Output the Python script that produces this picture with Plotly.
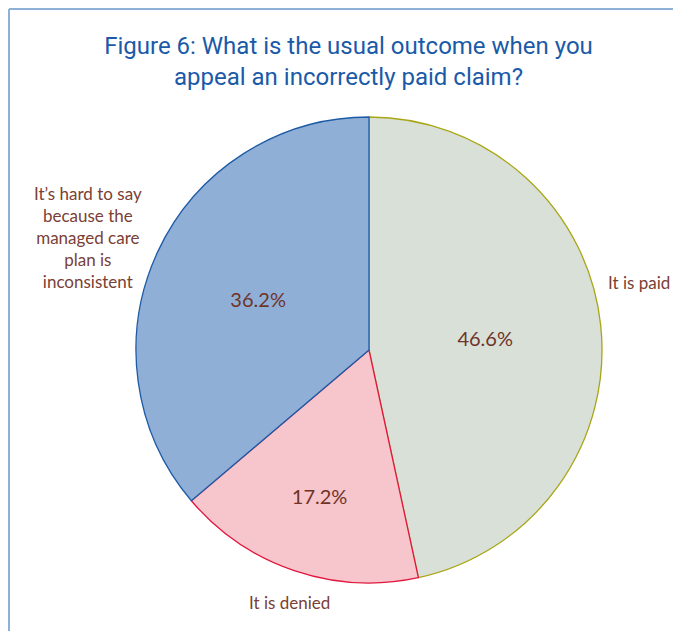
import plotly.graph_objects as go

labels = ["It is paid", "It is denied", "It's hard to say because the managed care plan is inconsistent"]
values = [46.6, 17.2, 36.2]
fill_colors = ["#d9e0d8", "#f7c5cc", "#90afd6"]
line_colors = ["#a8a614", "#e0163e", "#1d5ba6"]

# page body has an 8px margin, so the figure is a little smaller than the window
W, H = 673, 623
text_color = "#6f3328"

fig = go.Figure(
    go.Pie(
        labels=labels,
        values=values,
        sort=False,
        direction="clockwise",
        rotation=0,
        marker=dict(colors=fill_colors, line=dict(color=line_colors, width=1.3)),
        texttemplate="%{value:.1f}%",
        textposition="inside",
        insidetextorientation="horizontal",
        textfont=dict(family="Lato", size=20, color=text_color),
        domain=dict(x=[128 / W, 594 / W], y=[1 - 575 / H, 1 - 109 / H]),
        showlegend=False,
        hoverinfo="label+percent",
    )
)

# outside category labels
label_font = dict(family="Lato", size=17, color="#7a4035")
fig.add_annotation(x=631 / W, y=1 - 275 / H, text="It is paid", xanchor="center",
                   showarrow=False, font=label_font, xref="paper", yref="paper")
fig.add_annotation(x=281 / W, y=1 - 607 / H, text="It is denied", xanchor="center",
                   showarrow=False, font=label_font, xref="paper", yref="paper")
fig.add_annotation(x=80 / W, y=1 - 230 / H, xanchor="center",
                   text="It’s hard to say<br>because the<br>managed care<br>plan is<br>inconsistent",
                   showarrow=False, font=label_font, xref="paper", yref="paper",
                   align="center")

# frame lines (left and top)
fig.add_shape(type="line", x0=1 / W, x1=1 / W, y0=0, y1=1 - 1 / H,
              xref="paper", yref="paper", line=dict(color="#8fb0d6", width=2))
fig.add_shape(type="line", x0=1 / W, x1=1, y0=1 - 1 / H, y1=1 - 1 / H,
              xref="paper", yref="paper", line=dict(color="#8fb0d6", width=2))

fig.update_layout(
    title=dict(
        text="Figure 6: What is the usual outcome when you<br>appeal an incorrectly paid claim?",
        x=340.5 / W, xanchor="center", y=1 - 46 / H, yanchor="middle",
        font=dict(family="Roboto", size=24, color="#1a5aa8"),
    ),
    width=W,
    height=H,
    margin=dict(l=0, r=0, t=0, b=0),
    paper_bgcolor="white",
    plot_bgcolor="white",
)

fig.write_html("out.html")
